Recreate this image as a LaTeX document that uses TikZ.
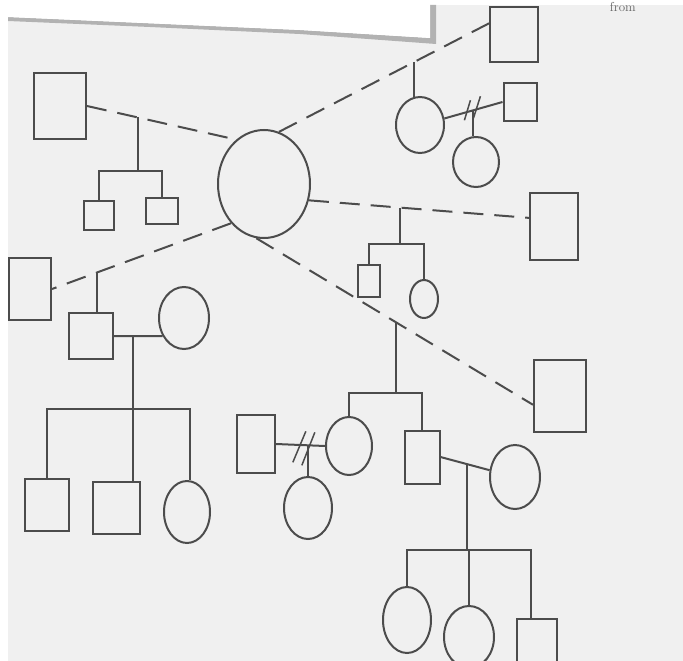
\documentclass[tikz,border=0pt]{standalone}
\usetikzlibrary{shapes.geometric,calc}
\begin{document}
\begin{tikzpicture}[x=1pt,y=-1pt,
  pen/.style={draw=black!70, line width=2pt},
  male/.style={pen, rectangle, inner sep=0pt},
  female/.style={pen, ellipse, inner sep=0pt},
  rel/.style={draw=black!70, line width=2pt},
  dsh/.style={rel, dash pattern=on 20pt off 11pt},
  slash/.style={draw=black!70, line width=1.5pt}]
\useasboundingbox (0,0) rectangle (683,661);
\clip (0,0) rectangle (683,661);
% paper
\fill[white] (0,0) rectangle (683,661);
\fill[black!6] (8,5) rectangle (683,661);
% overlaid sheet at the top
\fill[black!30] (8,21) -- (150,27) -- (300,34) -- (436,44) -- (436,5) -- (430,5) -- (430,38) -- (300,30) -- (8,17) -- cycle;
\fill[white] (8,5) -- (430,5) -- (430,38) -- (300,30) -- (8,17) -- cycle;
\node[font=\fontsize{13}{13}\selectfont, text=black!60, anchor=east, inner sep=0pt] (txt) at (636,7) {from};

% people
\node[female, minimum width=92pt, minimum height=108pt] (big) at (264,184) {};
\node[male, minimum width=52pt, minimum height=65pt] (tlsq) at (60,106) {};
\node[male, minimum width=30pt, minimum height=29pt] (c1) at (99,215) {};
\node[male, minimum width=32pt, minimum height=26pt] (c2) at (162,211) {};
\node[male, minimum width=48pt, minimum height=55pt] (trsq) at (514,35) {};
\node[female, minimum width=48pt, minimum height=56pt] (trc) at (420,125) {};
\node[male, minimum width=33pt, minimum height=38pt] (trm) at (520,102) {};
\node[female, minimum width=46pt, minimum height=50pt] (trchild) at (476,162) {};
\node[male, minimum width=48pt, minimum height=67pt] (rsq) at (554,226) {};
\node[male, minimum width=22pt, minimum height=32pt] (rc1) at (369,281) {};
\node[female, minimum width=28pt, minimum height=38pt] (rc2) at (424,299) {};
\node[male, minimum width=42pt, minimum height=62pt] (lsq) at (30,289) {};
\node[male, minimum width=44pt, minimum height=46pt] (lm) at (91,336) {};
\node[female, minimum width=50pt, minimum height=62pt] (lw) at (184,318) {};
\node[male, minimum width=44pt, minimum height=52pt] (lk1) at (47,505) {};
\node[male, minimum width=47pt, minimum height=52pt] (lk2) at (116,508) {};
\node[female, minimum width=46pt, minimum height=62pt] (lk3) at (187,512) {};
\node[male, minimum width=52pt, minimum height=72pt] (brsq) at (560,396) {};
\node[female, minimum width=46pt, minimum height=58pt] (dx) at (349,446) {};
\node[male, minimum width=38pt, minimum height=58pt] (dxh) at (256,444) {};
\node[female, minimum width=48pt, minimum height=62pt] (dxc) at (308,508) {};
\node[male, minimum width=35pt, minimum height=53pt] (son) at (422,457) {};
\node[female, minimum width=50pt, minimum height=64pt] (sonw) at (515,477) {};
\node[female, minimum width=48pt, minimum height=66pt] (g1) at (407,620) {};
\node[female, minimum width=50pt, minimum height=62pt] (g2) at (469,637) {};
\node[male, minimum width=40pt, minimum height=52pt] (g3) at (537,645) {};

% dashed (distant) relationships with the big circle
\draw[dsh] (tlsq.east) -- coordinate[pos=0.34] (b1) (big.122);
\draw[dsh] (big.74) -- coordinate[pos=0.645] (b2) (trsq.155);
\draw[dsh] (big.-20) -- coordinate[pos=0.414] (b3) (rsq.162);
\draw[dsh] (big.230) -- coordinate[pos=0.75] (b4) (lsq.east);
\draw[dsh] (big.262) -- coordinate[pos=0.505] (b5) (brsq.198);

% children of top-left
\draw[rel] (b1) -- (b1 |- 0,171);
\draw[rel] (c1.north) -- (c1.north |- 0,171) -- (c2.north |- 0,171) -- (c2.north);

% top-right
\draw[rel] (b2) -- ($(b2 |- trc.north)+(0,1)$);
\draw[rel] (trc.15) -- coordinate[pos=0.5] (m1) (trm.west);
\draw[slash] ($(m1)+(-9,10)$) -- ($(m1)+(-3,-10)$);
\draw[slash] ($(m1)+(0,8)$) -- ($(m1)+(7,-14)$);
\draw[rel] (m1) -- (m1 |- trchild.north);

% right
\draw[rel] (b3) -- (b3 |- 0,244);
\draw[rel] (rc1.north) -- (rc1.north |- 0,244) -- (rc2.north |- 0,244) -- (rc2.north);

% left
\draw[rel] (b4) -- (b4 |- lm.north);
\draw[rel] (lm.east) -- coordinate[pos=0.4] (m2) (lw.220);
\draw[rel] (m2) -- (m2 |- lk2.north);
\draw[rel] (lk1.north) -- (lk1.north |- 0,409) -- ($(lk3.north |- 0,409)+(3,0)$) -- ($(lk3.north)+(3,0)$);

% lower right
\draw[rel] (b5) -- (b5 |- 0,393);
\draw[rel] (dx.north) -- (dx.north |- 0,393) -- (son.north |- 0,393) -- (son.north);
\draw[rel] (dxh.east) -- coordinate[pos=0.65] (m3) (dx.west);
\draw[slash] ($(m3)+(-15,17)$) -- ($(m3)+(-2,-14)$);
\draw[slash] ($(m3)+(-6,20)$) -- ($(m3)+(7,-13)$);
\draw[rel] (m3) -- (m3 |- dxc.north);
\draw[rel] (son.east) -- coordinate[pos=0.55] (m4) (sonw.165);
\draw[rel] (m4) -- (m4 |- 0,550);
\draw[rel] (g1.north) -- (g1.north |- 0,550) -- ($(g3.north |- 0,550)+(-6,0)$) -- ($(g3.north)+(-6,0)$);
\draw[rel] (g2.north |- 0,550) -- (g2.north);
\end{tikzpicture}
\end{document}
